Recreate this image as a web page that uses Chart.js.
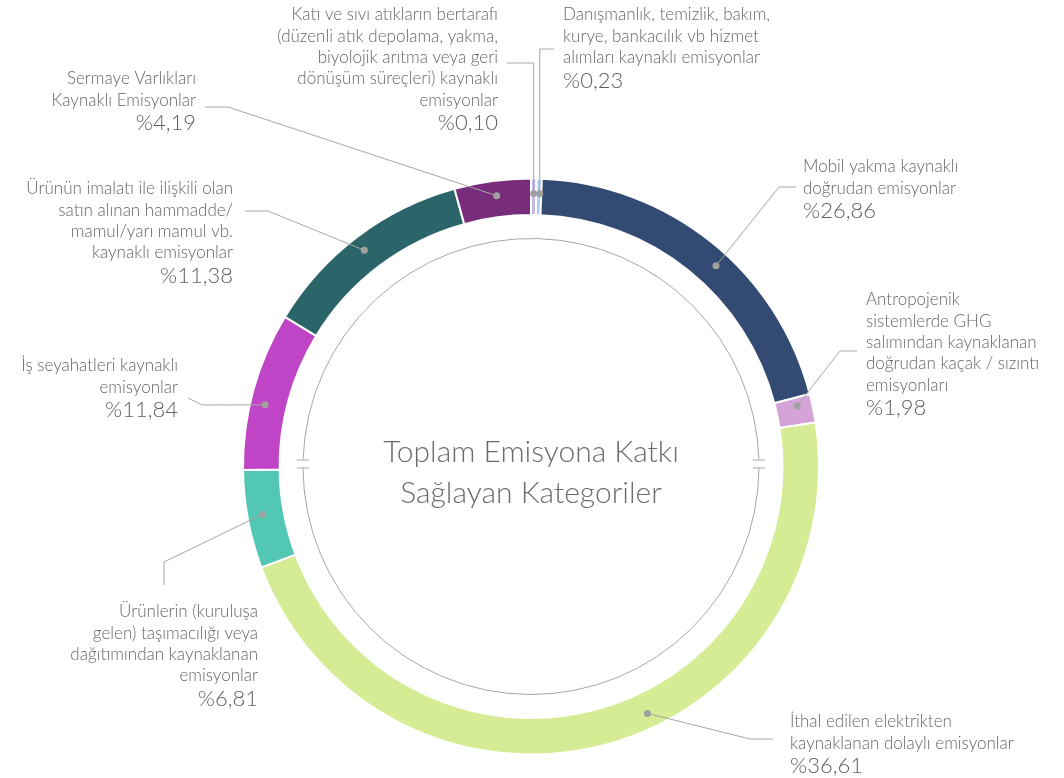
<!DOCTYPE html>
<html>
<head>
<meta charset="utf-8">
<script src="https://cdn.jsdelivr.net/npm/chart.js@4.4.1/dist/chart.umd.min.js"></script>
<style>
    html, body { margin: 0; padding: 0; background: #fff; }
    #wrap { width: 1064px; height: 778px; position: relative; }
</style>
</head>
<body>
<div id="wrap"><canvas id="myChart"></canvas></div>
<script>
// Categories in drawing order (clockwise from 12 o'clock)
const categories = [
    "Katı ve sıvı atıkların bertarafı (düzenli atık depolama, yakma, biyolojik arıtma veya geri dönüşüm süreçleri) kaynaklı emisyonlar",
    "Danışmanlık, temizlik, bakım, kurye, bankacılık vb hizmet alımları kaynaklı emisyonlar",
    "Mobil yakma kaynaklı doğrudan emisyonlar",
    "Antropojenik sistemlerde GHG salımından kaynaklanan doğrudan kaçak / sızıntı emisyonları",
    "İthal edilen elektrikten kaynaklanan dolaylı emisyonlar",
    "Ürünlerin (kuruluşa gelen) taşımacılığı veya dağıtımından kaynaklanan emisyonlar",
    "İş seyahatleri kaynaklı emisyonlar",
    "Ürünün imalatı ile ilişkili olan satın alınan hammadde/ mamul/yarı mamul vb. kaynaklı emisyonlar",
    "Sermaye Varlıkları Kaynaklı Emisyonlar"
]

// Slice sizes as drawn in the picture (share of the ring, %)
const sliceValues = [0.31, 0.29, 20.35, 1.61, 46.75, 5.50, 8.89, 12.03, 4.28]

// Percent labels as printed
const percentLabels = ["%0,10", "%0,23", "%26,86", "%1,98", "%36,61", "%6,81", "%11,84", "%11,38", "%4,19"]

// Wrapped label lines
const labelLines = [
    ["Katı ve sıvı atıkların bertarafı", "(düzenli atık depolama, yakma,", "biyolojik arıtma veya geri", "dönüşüm süreçleri) kaynaklı", "emisyonlar"],
    ["Danışmanlık, temizlik, bakım,", "kurye, bankacılık vb hizmet", "alımları kaynaklı emisyonlar"],
    ["Mobil yakma kaynaklı", "doğrudan emisyonlar"],
    ["Antropojenik", "sistemlerde GHG", "salımından kaynaklanan", "doğrudan kaçak / sızıntı", "emisyonları"],
    ["İthal edilen elektrikten", "kaynaklanan dolaylı emisyonlar"],
    ["Ürünlerin (kuruluşa", "gelen) taşımacılığı veya", "dağıtımından kaynaklanan", "emisyonlar"],
    ["İş seyahatleri kaynaklı", "emisyonlar"],
    ["Ürünün imalatı ile ilişkili olan", "satın alınan hammadde/", "mamul/yarı mamul vb.", "kaynaklı emisyonlar"],
    ["Sermaye Varlıkları", "Kaynaklı Emisyonlar"]
]

const centerTitle = ["Toplam Emisyona Katkı", "Sağlayan Kategoriler"]

const sliceColors = ["#c7b8e6", "#a9cdf0", "#334b73", "#d4a3d8", "#d5eb94", "#52c8b4", "#c045c6", "#2b6569", "#782d7c"]

// Label placement: text anchor, alignment, where the dot sits along the slice, leader line path
const labelLayout = [
    { x: 498, y: 15, align: "right", frac: 0.5, path: [["v", 63], [507, 63]] },
    { x: 563, y: 15, align: "left", frac: 0.7, path: [["v", 49], [554, 49]] },
    { x: 803, y: 167, align: "left", frac: 0.553, path: [[779, 187], [796, 187]] },
    { x: 866, y: 300, align: "left", frac: 0.3, path: [[840, 351], [857, 351]] },
    { x: 790, y: 722, align: "left", frac: 0.437, path: [[750, 739], [773, 739]] },
    { x: 258, y: 612, align: "right", frac: 0.525, path: [[164, 562], [164, 585]] },
    { x: 178, y: 366, align: "right", frac: 0.43, path: [[202, 405], [188, 398]] },
    { x: 233, y: 189, align: "right", frac: 0.487, path: [[268, 211], [245, 211]] },
    { x: 196, y: 79, align: "right", frac: 0.53, path: [[228, 107], [205, 107]] }
]

const fontFam = "Lato, 'Open Sans', sans-serif"
const textColor = "#666666"
const lineColor = "#a6a6a6"

const labelsPlugin = {
    id: 'labelsPlugin',
    afterDraw(chart) {
        const c = chart.ctx
        const arcs = chart.getDatasetMeta(0).data
        const cx = arcs[0].x, cy = arcs[0].y

        // thin inner circle with break marks on left and right
        c.save()
        c.strokeStyle = lineColor
        c.lineWidth = 1
        const rc = 228
        const gapTop = -7, gapBot = 1
        const aTop = Math.asin(gapTop / rc), aBot = Math.asin(gapBot / rc)
        c.beginPath()
        c.arc(cx, cy, rc, aBot, Math.PI - aBot)
        c.stroke()
        c.beginPath()
        c.arc(cx, cy, rc, Math.PI - aTop, 2 * Math.PI + aTop)
        c.stroke()
        ;[gapTop, gapBot].forEach(dy => {
            const hx = Math.sqrt(rc * rc - dy * dy)
            c.beginPath()
            c.moveTo(cx - hx - 6, cy + dy + 0.5); c.lineTo(cx - hx + 6, cy + dy + 0.5)
            c.moveTo(cx + hx - 6, cy + dy + 0.5); c.lineTo(cx + hx + 6, cy + dy + 0.5)
            c.stroke()
        })

        // center title
        c.fillStyle = "#6b6b6b"
        c.font = `300 30px ${fontFam}`
        c.textAlign = "center"
        c.textBaseline = "middle"
        c.fillText(centerTitle[0], cx, 452)
        c.fillText(centerTitle[1], cx, 493)

        // leader lines, dots and labels
        arcs.forEach((arc, i) => {
            const lay = labelLayout[i]
            const a = arc.startAngle + lay.frac * (arc.endAngle - arc.startAngle)
            const dx = cx + 273 * Math.cos(a)
            const dy = cy + 273 * Math.sin(a)

            c.strokeStyle = lineColor
            c.lineWidth = 1
            c.beginPath()
            c.moveTo(dx, dy)
            lay.path.forEach(p => {
                const px = p[0] === "v" ? dx : p[0]
                c.lineTo(px, p[1])
            })
            c.stroke()

            c.fillStyle = "#a0a0a0"
            c.beginPath()
            c.arc(dx, dy, 3.5, 0, Math.PI * 2)
            c.fill()

            c.fillStyle = textColor
            c.textAlign = lay.align
            c.textBaseline = "middle"
            c.font = `300 17px ${fontFam}`
            const lines = labelLines[i]
            lines.forEach((ln, k) => c.fillText(ln, lay.x, lay.y + k * 21.3))
            c.fillStyle = "#5f5f5f"
            c.font = `300 22px ${fontFam}`
            c.fillText(percentLabels[i], lay.x, lay.y + (lines.length - 1) * 21.3 + 23)
        })
        c.restore()
    }
}

const ctx = document.getElementById('myChart')

new Chart(ctx, {
    type: 'doughnut',
    data: {
        labels: categories,
        datasets: [{
            data: sliceValues,
            backgroundColor: sliceColors,
            borderColor: '#ffffff',
            borderWidth: 2
        }]
    },
    options: {
        responsive: true,
        maintainAspectRatio: false,
        animation: false,
        events: [],
        radius: 288,
        cutout: '87.3%',
        layout: { padding: { top: 179, bottom: 24, left: 0, right: 2 } },
        plugins: {
            legend: { display: false },
            tooltip: { enabled: false }
        }
    },
    plugins: [labelsPlugin]
})
</script>
</body>
</html>
